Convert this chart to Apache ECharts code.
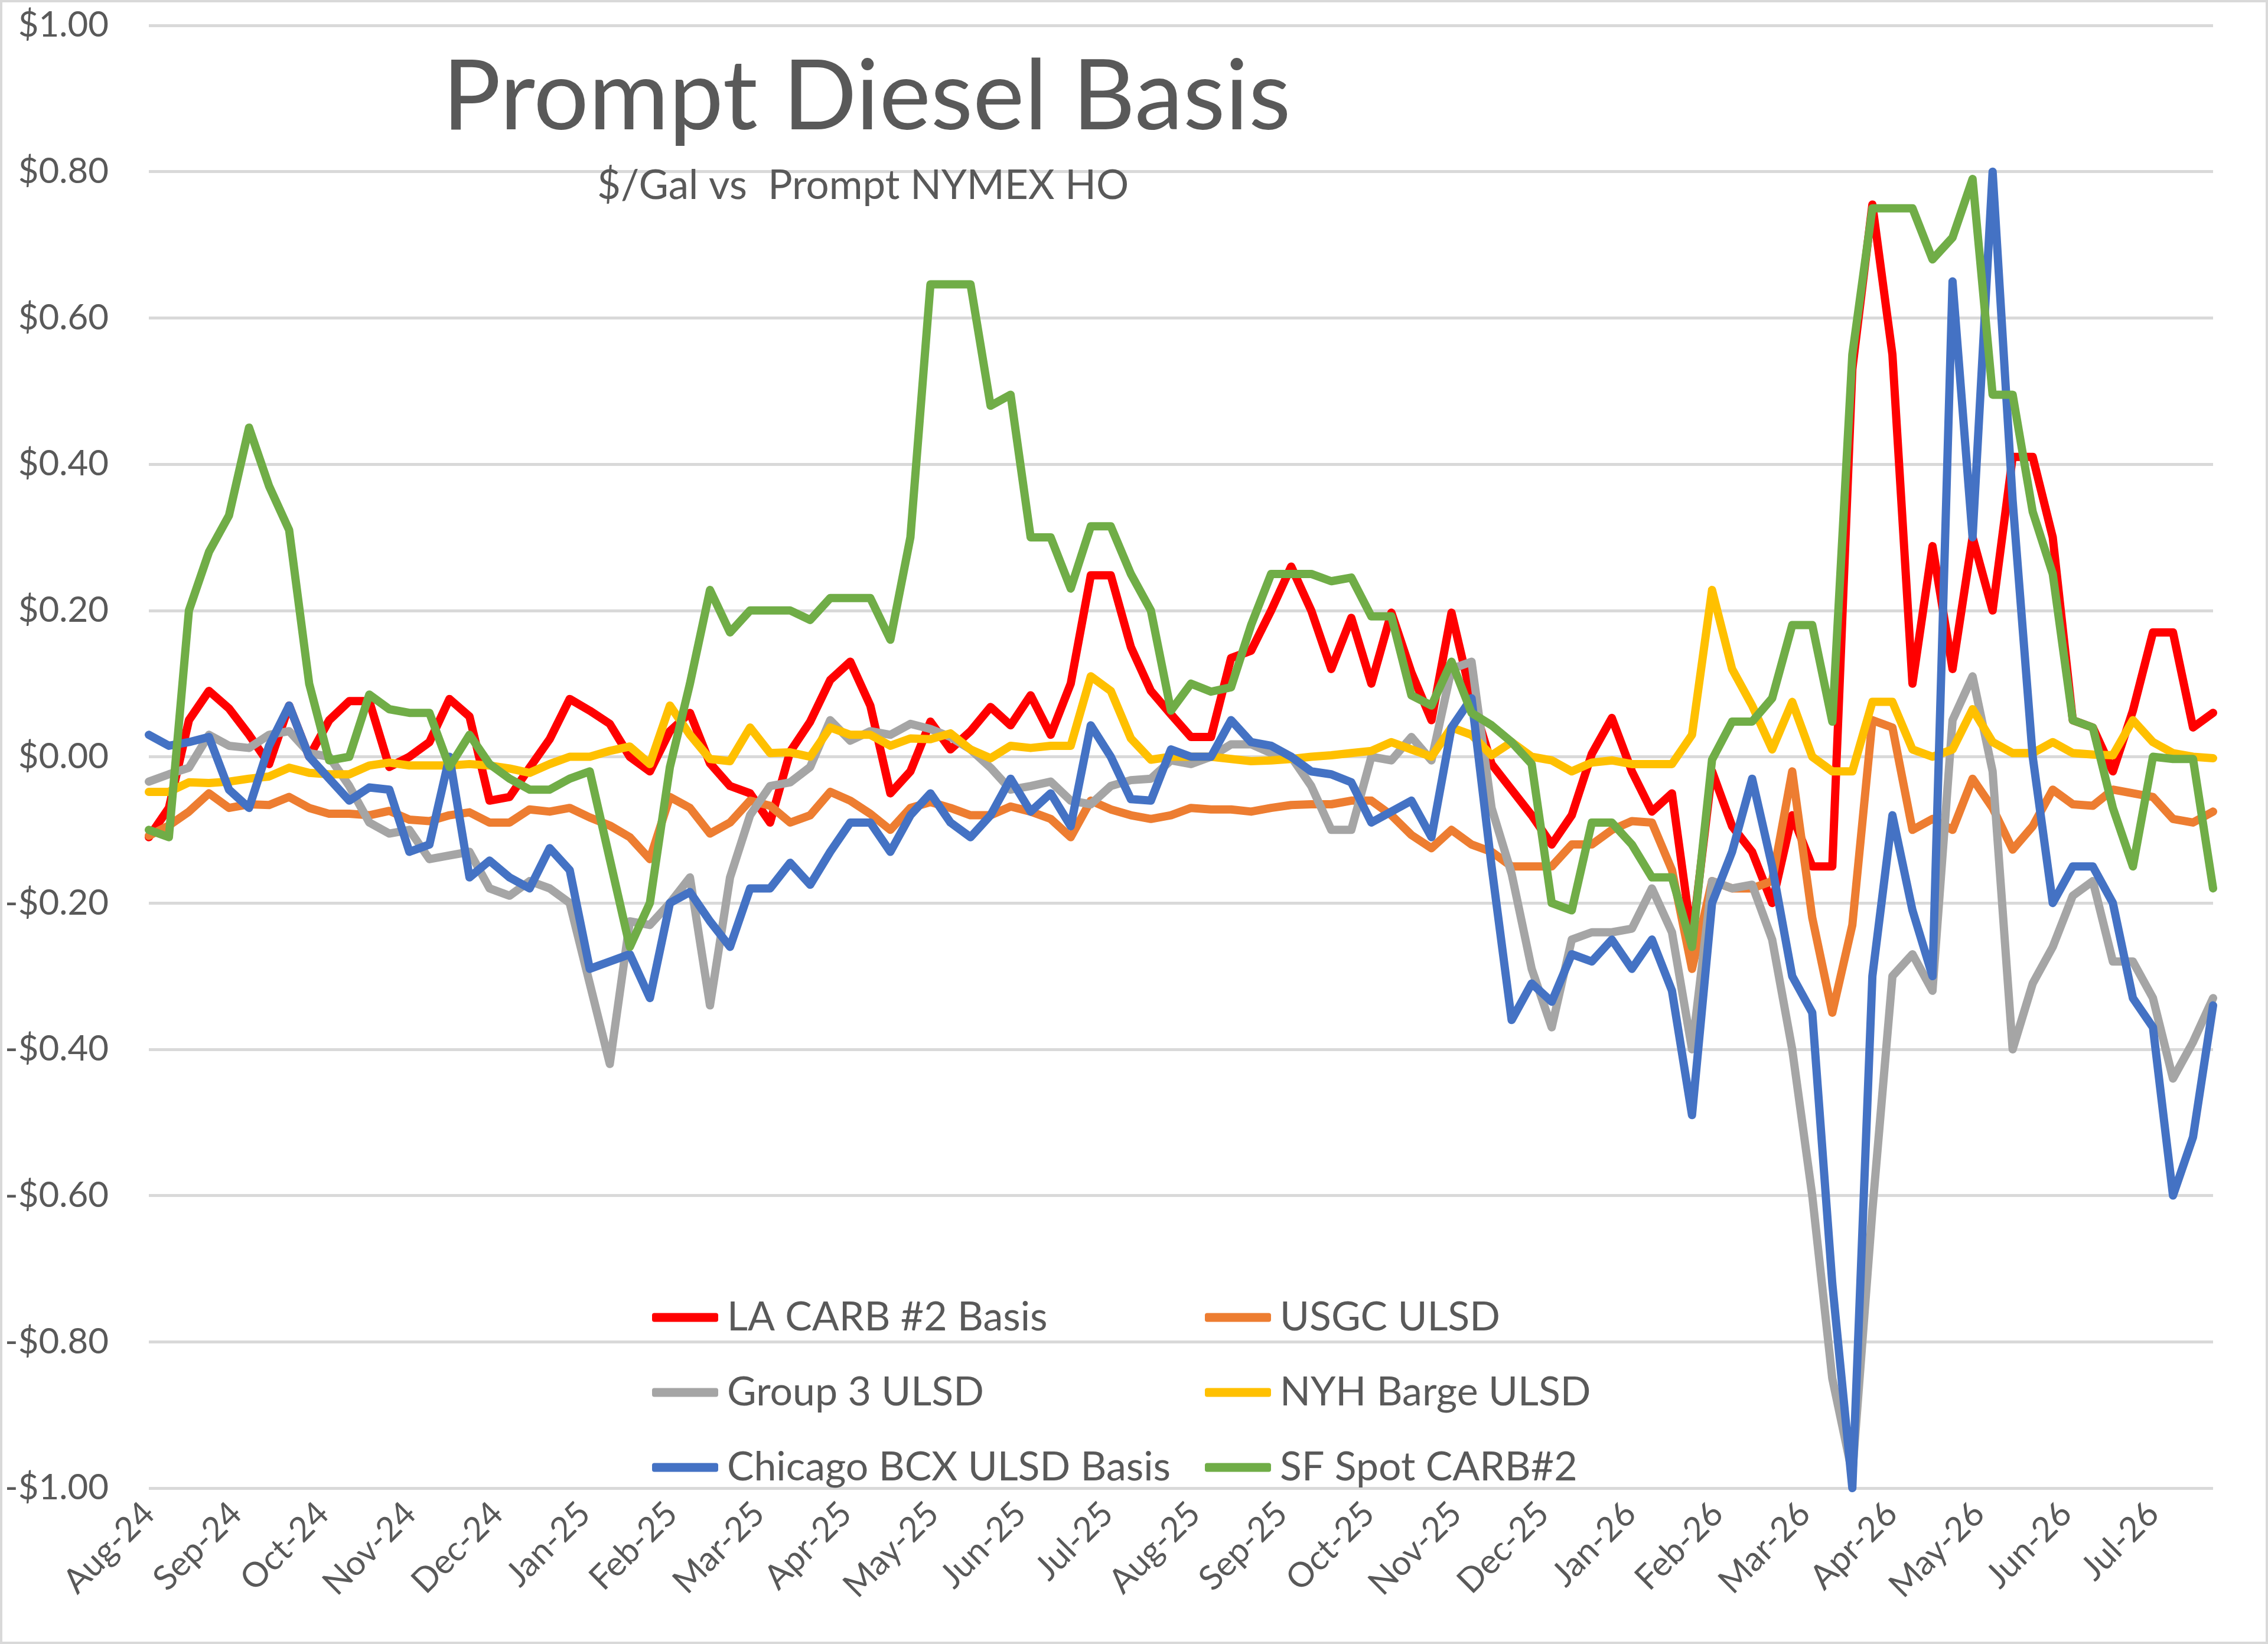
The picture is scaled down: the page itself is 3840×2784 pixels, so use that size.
<!DOCTYPE html>
<html>
<head>
<meta charset="utf-8">
<title>Prompt Diesel Basis</title>
<script src="https://cdn.jsdelivr.net/npm/echarts@6/dist/echarts.min.js"></script>
<style>
  html, body { margin: 0; padding: 0; background: #ffffff; }
  #chart { width: 3840px; height: 2784px; }
</style>
</head>
<body>
<div id="chart"></div>
<script>
// Month tick labels, one per month starting Aug-24
var monthLabels = ['Aug-24', 'Sep-24', 'Oct-24', 'Nov-24', 'Dec-24', 'Jan-25', 'Feb-25', 'Mar-25',
  'Apr-25', 'May-25', 'Jun-25', 'Jul-25', 'Aug-25', 'Sep-25', 'Oct-25', 'Nov-25', 'Dec-25',
  'Jan-26', 'Feb-26', 'Mar-26', 'Apr-26', 'May-26', 'Jun-26', 'Jul-26'];

// Weekly basis values, $/gal vs prompt NYMEX HO
var laCarb = [-0.11, -0.07, 0.05, 0.09, 0.066, 0.03, -0.01, 0.07, 0.0, 0.05, 0.076, 0.076, -0.014, 0.0, 0.02, 0.079, 0.055, -0.06,
  -0.055, -0.015, 0.024, 0.079, 0.063, 0.045, 0.0, -0.02, 0.035, 0.06, -0.009, -0.04, -0.05, -0.09, 0.007, 0.048, 0.105,
  0.13, 0.07, -0.05, -0.02, 0.048, 0.01, 0.035, 0.068, 0.043, 0.084, 0.03, 0.1, 0.248, 0.248, 0.15, 0.09, 0.058,
  0.027, 0.027, 0.135, 0.145, 0.2, 0.26, 0.2, 0.12, 0.19, 0.1, 0.197, 0.115, 0.05, 0.197, 0.08, -0.01, -0.045,
  -0.08, -0.12, -0.08, 0.004, 0.053, -0.02, -0.075, -0.05, -0.25, -0.02, -0.095, -0.13, -0.2, -0.08, -0.15, -0.15,
  0.53, 0.755, 0.55, 0.1, 0.288, 0.12, 0.3, 0.2, 0.41, 0.41, 0.3, 0.05, 0.04, -0.02, 0.063, 0.17, 0.17, 0.04, 0.06];

var usgc = [-0.108, -0.094, -0.075, -0.05, -0.07, -0.065, -0.066, -0.055, -0.07, -0.078, -0.078, -0.08, -0.074, -0.086, -0.088, -0.08, -0.076, -0.09,
  -0.09, -0.072, -0.075, -0.07, -0.083, -0.094, -0.11, -0.14, -0.055, -0.07, -0.105, -0.09, -0.06, -0.067, -0.09, -0.08, -0.048,
  -0.06, -0.078, -0.1, -0.07, -0.062, -0.07, -0.08, -0.08, -0.068, -0.075, -0.085, -0.11, -0.06, -0.072, -0.08, -0.085, -0.08,
  -0.07, -0.072, -0.072, -0.075, -0.07, -0.066, -0.065, -0.065, -0.06, -0.06, -0.08, -0.107, -0.125, -0.1, -0.12, -0.13, -0.15,
  -0.15, -0.15, -0.12, -0.12, -0.1, -0.088, -0.09, -0.155, -0.29, -0.17, -0.18, -0.18, -0.17, -0.02, -0.22, -0.35,
  -0.23, 0.05, 0.04, -0.1, -0.085, -0.1, -0.03, -0.07, -0.127, -0.095, -0.045, -0.065, -0.067, -0.045, -0.05, -0.055, -0.085, -0.09, -0.075];

var group3 = [-0.034, -0.024, -0.015, 0.03, 0.015, 0.012, 0.03, 0.035, 0.005, 0.0, -0.04, -0.09, -0.105, -0.1, -0.14, -0.135, -0.13, -0.18,
  -0.19, -0.17, -0.18, -0.2, -0.31, -0.42, -0.225, -0.23, -0.2, -0.165, -0.34, -0.165, -0.08, -0.04, -0.035, -0.014, 0.05,
  0.022, 0.035, 0.03, 0.045, 0.038, 0.027, 0.01, -0.015, -0.045, -0.04, -0.034, -0.06, -0.065, -0.04, -0.032, -0.03, -0.005,
  -0.01, 0.0, 0.017, 0.017, 0.005, 0.0, -0.04, -0.1, -0.1, 0.0, -0.005, 0.027, -0.005, 0.12, 0.13, -0.07, -0.16,
  -0.29, -0.37, -0.25, -0.24, -0.24, -0.235, -0.18, -0.24, -0.4, -0.17, -0.18, -0.175, -0.25, -0.4, -0.6, -0.85,
  -0.98, -0.62, -0.3, -0.27, -0.32, 0.05, 0.11, -0.02, -0.4, -0.31, -0.26, -0.19, -0.17, -0.28, -0.28, -0.33, -0.44, -0.39, -0.33];

var nyhBarge = [-0.048, -0.048, -0.035, -0.036, -0.034, -0.03, -0.027, -0.015, -0.022, -0.024, -0.024, -0.012, -0.008, -0.012, -0.012, -0.012, -0.01, -0.012,
  -0.016, -0.022, -0.01, 0.0, 0.0, 0.008, 0.014, -0.01, 0.07, 0.03, -0.003, -0.006, 0.04, 0.005, 0.006, 0.0, 0.04,
  0.03, 0.03, 0.015, 0.025, 0.024, 0.032, 0.01, -0.002, 0.015, 0.012, 0.015, 0.015, 0.11, 0.09, 0.025, -0.004, 0.0,
  0.0, 0.0, -0.003, -0.006, -0.005, -0.003, 0.0, 0.002, 0.005, 0.008, 0.02, 0.01, 0.0, 0.04, 0.03, 0.002, 0.02,
  0.0, -0.005, -0.02, -0.008, -0.005, -0.01, -0.01, -0.01, 0.03, 0.228, 0.12, 0.07, 0.01, 0.075, 0.0, -0.02,
  -0.02, 0.075, 0.075, 0.01, 0.0, 0.01, 0.065, 0.02, 0.005, 0.005, 0.02, 0.005, 0.003, 0.002, 0.05, 0.02, 0.005, 0.0, -0.002];

var chicago = [0.03, 0.015, 0.02, 0.027, -0.045, -0.07, 0.015, 0.07, 0.0, -0.03, -0.06, -0.042, -0.045, -0.13, -0.12, 0.0, -0.165, -0.142,
  -0.165, -0.18, -0.125, -0.155, -0.29, -0.28, -0.27, -0.33, -0.2, -0.185, -0.225, -0.26, -0.18, -0.18, -0.145, -0.175, -0.13,
  -0.09, -0.09, -0.13, -0.08, -0.05, -0.09, -0.11, -0.08, -0.03, -0.075, -0.05, -0.095, 0.043, 0.0, -0.058, -0.06, 0.01,
  0.0, 0.0, 0.05, 0.02, 0.015, 0.0, -0.02, -0.024, -0.035, -0.09, -0.075, -0.06, -0.11, 0.04, 0.08, -0.15, -0.36,
  -0.31, -0.335, -0.27, -0.28, -0.25, -0.29, -0.25, -0.32, -0.49, -0.2, -0.13, -0.03, -0.15, -0.3, -0.35, -0.72,
  -1.0, -0.3, -0.08, -0.21, -0.3, 0.65, 0.3, 0.8, 0.35, 0.0, -0.2, -0.15, -0.15, -0.2, -0.33, -0.37, -0.6, -0.52, -0.34];

var sfSpot = [-0.10, -0.11, 0.2, 0.28, 0.33, 0.45, 0.37, 0.31, 0.1, -0.005, 0.0, 0.085, 0.065, 0.06, 0.06, -0.014, 0.03, -0.01,
  -0.03, -0.045, -0.045, -0.03, -0.02, -0.14, -0.26, -0.2, -0.014, 0.1, 0.228, 0.17, 0.2, 0.2, 0.2, 0.187, 0.217,
  0.217, 0.217, 0.16, 0.3, 0.646, 0.646, 0.646, 0.48, 0.495, 0.3, 0.3, 0.23, 0.315, 0.315, 0.25, 0.2, 0.063,
  0.1, 0.089, 0.095, 0.18, 0.25, 0.25, 0.25, 0.24, 0.245, 0.192, 0.192, 0.084, 0.07, 0.13, 0.06, 0.043, 0.02,
  -0.01, -0.2, -0.21, -0.09, -0.09, -0.12, -0.165, -0.165, -0.26, -0.004, 0.048, 0.048, 0.08, 0.18, 0.18, 0.048,
  0.55, 0.75, 0.75, 0.75, 0.68, 0.71, 0.79, 0.495, 0.495, 0.335, 0.25, 0.05, 0.04, -0.07, -0.15, 0.0, -0.003, -0.003, -0.18];

(function() {
  var ink = '#595959';
  var rule = '#d9d9d9';
  var font = 'Lato';
  var weekStep = 7 / 30.4375; // one week, in months

  function toPoints(values) {
    return values.map(function(v, i) { return [i * weekStep, v]; });
  }

  function lineSeries(name, values, color) {
    return {
      name: name,
      type: 'line',
      data: toPoints(values),
      showSymbol: false,
      symbol: 'none',
      itemStyle: { color: color },
      lineStyle: { color: color, width: 14, cap: 'round', join: 'round' }
    };
  }

  function money(v) {
    var s = '$' + Math.abs(v).toFixed(2);
    return v < -1e-9 ? '-' + s : s;
  }

  var legendBase = {
    orient: 'vertical',
    top: 2188,
    itemGap: 51,
    itemWidth: 112,
    itemHeight: 15,
    icon: 'roundRect',
    selectedMode: false,
    textStyle: { color: ink, fontFamily: font, fontSize: 68, lineHeight: 76, padding: [0, 0, 0, 10] }
  };

  var chart = echarts.init(document.getElementById('chart'), null, { renderer: 'canvas' });
  chart.setOption({
    animation: false,
    backgroundColor: '#ffffff',
    title: [
      {
        text: 'Prompt Diesel Basis',
        left: 744,
        top: 76,
        textStyle: { color: ink, fontFamily: font, fontSize: 165, fontWeight: 'normal', lineHeight: 170 }
      },
      {
        text: '$/Gal vs  Prompt NYMEX HO',
        left: 1006,
        top: 273,
        textStyle: { color: ink, fontFamily: font, fontSize: 69, fontWeight: 'normal', lineHeight: 74 }
      }
    ],
    legend: [
      Object.assign({}, legendBase, { left: 1099, data: ['LA CARB #2 Basis', 'Group 3 ULSD', 'Chicago BCX ULSD Basis'] }),
      Object.assign({}, legendBase, { left: 2035, data: ['USGC ULSD', 'NYH Barge ULSD', 'SF Spot CARB#2'] })
    ],
    grid: { left: 252, right: 93, top: 43, bottom: 264, containLabel: false },
    xAxis: {
      type: 'value',
      min: 0,
      max: (laCarb.length - 1) * weekStep,
      interval: 1,
      axisLine: { show: false },
      axisTick: { show: false },
      splitLine: { show: false },
      axisLabel: {
        color: ink,
        fontFamily: font,
        fontSize: 58,
        rotate: 45,
        margin: 34,
        showMaxLabel: false,
        formatter: function(v) {
          var r = Math.round(v);
          return Math.abs(v - r) < 1e-6 && monthLabels[r] ? monthLabels[r] : '';
        }
      }
    },
    yAxis: {
      type: 'value',
      min: -1,
      max: 1,
      interval: 0.2,
      axisLine: { show: false },
      axisTick: { show: false },
      splitLine: { lineStyle: { color: rule, width: 5 } },
      axisLabel: { color: ink, fontFamily: font, fontSize: 60, margin: 68, formatter: money }
    },
    series: [
      lineSeries('LA CARB #2 Basis', laCarb, '#ff0000'),
      lineSeries('USGC ULSD', usgc, '#ed7d31'),
      lineSeries('Group 3 ULSD', group3, '#a5a5a5'),
      lineSeries('NYH Barge ULSD', nyhBarge, '#ffc000'),
      lineSeries('Chicago BCX ULSD Basis', chicago, '#4472c4'),
      lineSeries('SF Spot CARB#2', sfSpot, '#70ad47')
    ],
    graphic: [{
      type: 'rect',
      silent: true,
      shape: { x: 2, y: 2, width: 3836, height: 2780 },
      style: { fill: 'none', stroke: rule, lineWidth: 4 }
    }]
  });
})();
</script>
</body>
</html>
